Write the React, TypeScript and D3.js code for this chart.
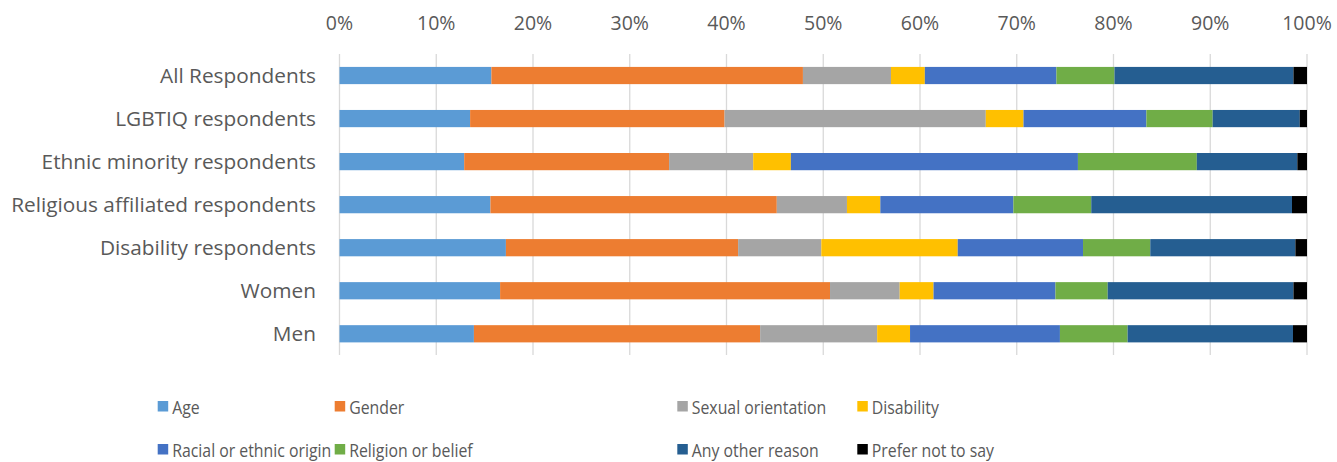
import React, { useRef, useEffect } from "react";
import * as d3 from "d3";

const categories = [
  "All Respondents",
  "LGBTIQ respondents",
  "Ethnic minority respondents",
  "Religious affiliated respondents",
  "Disability respondents",
  "Women",
  "Men",
];

const seriesNames = [
  "Age",
  "Gender",
  "Sexual orientation",
  "Disability",
  "Racial or ethnic origin",
  "Religion or belief",
  "Any other reason",
  "Prefer not to say",
];

const seriesColors = ["#5B9BD5", "#ED7D31", "#A5A5A5", "#FFC000", "#4472C4", "#70AD47", "#255E91", "#000000"];

// percentages per category, in seriesNames order
const age = [15.7, 13.5, 12.9, 15.6, 17.2, 16.6, 13.9];
const gender = [32.2, 26.3, 21.2, 29.6, 24.0, 34.1, 29.6];
const sexualOrientation = [9.1, 27.0, 8.7, 7.25, 8.6, 7.2, 12.1];
const disability = [3.5, 3.9, 3.9, 3.45, 14.1, 3.5, 3.4];
const racial = [13.6, 12.7, 29.7, 13.75, 12.95, 12.6, 15.5];
const religion = [6.0, 6.85, 12.3, 8.05, 6.95, 5.4, 7.0];
const otherReason = [18.5, 9.0, 10.4, 20.75, 15.0, 19.2, 17.1];
const preferNot = [1.4, 0.75, 1.0, 1.55, 1.2, 1.4, 1.45];

const tickValues = [0, 10, 20, 30, 40, 50, 60, 70, 80, 90, 100];

const App = () => {
  const svgRef = useRef<SVGSVGElement>(null);

  useEffect(() => {
    const svg = d3.select(svgRef.current);
    svg.selectAll("*").remove();

    const width = 1337, height = 462;
    const font = "'Open Sans', sans-serif";
    const textColor = "#595959";

    const allSeries = [age, gender, sexualOrientation, disability, racial, religion, otherReason, preferNot];
    const rows = categories.map((c, i) => {
      const row: any = { category: c };
      seriesNames.forEach((s, j) => (row[s] = allSeries[j][i]));
      return row;
    });
    const stacked = d3.stack().keys(seriesNames).offset(d3.stackOffsetExpand)(rows);

    const x = d3.scaleLinear().domain([0, 1]).range([339.5, 1307]);
    const y = d3.scaleBand().domain(categories).range([54, 355.3]).paddingInner(0.6).paddingOuter(0.3);

    svg.attr("width", width).attr("height", height);

    // gridlines
    svg.append("g")
      .selectAll("line")
      .data(tickValues)
      .enter()
      .append("line")
      .attr("x1", d => x(d / 100))
      .attr("x2", d => x(d / 100))
      .attr("y1", 54)
      .attr("y2", 355)
      .attr("stroke", "#D9D9D9")
      .attr("stroke-width", 1.3);

    // tick labels
    svg.append("g")
      .selectAll("text")
      .data(tickValues)
      .enter()
      .append("text")
      .attr("x", d => x(d / 100))
      .attr("y", 30)
      .attr("text-anchor", "middle")
      .attr("font-family", font)
      .attr("font-size", 19.5)
      .attr("fill", textColor)
      .text(d => d + "%");

    // bars
    svg.append("g")
      .selectAll("g")
      .data(stacked)
      .enter()
      .append("g")
      .attr("fill", (d, i) => seriesColors[i])
      .selectAll("rect")
      .data(d => d)
      .enter()
      .append("rect")
      .attr("x", d => x(d[0]))
      .attr("width", d => x(d[1]) - x(d[0]))
      .attr("y", d => y((d.data as any).category)!)
      .attr("height", y.bandwidth());

    // category labels
    svg.append("g")
      .selectAll("text")
      .data(categories)
      .enter()
      .append("text")
      .attr("x", 316)
      .attr("y", d => y(d)! + y.bandwidth() / 2)
      .attr("dy", "0.36em")
      .attr("text-anchor", "end")
      .attr("font-family", font)
      .attr("font-size", 20.8)
      .attr("fill", textColor)
      .text(d => d);

    // legend (text is a bit condensed in the original)
    const colX = [157.7, 334.7, 677.3, 857.3];
    const rowY = [401, 444];
    const legend = svg.append("g")
      .selectAll("g")
      .data(seriesNames)
      .enter()
      .append("g")
      .attr("transform", (d, i) => `translate(${colX[i % 4]},${rowY[Math.floor(i / 4)]})`);
    legend.append("rect")
      .attr("width", 10.5)
      .attr("height", 10.5)
      .attr("fill", (d, i) => seriesColors[i]);
    legend.append("text")
      .attr("transform", "translate(14.5,12.5) scale(0.88,1)")
      .attr("font-family", font)
      .attr("font-size", 18)
      .attr("fill", textColor)
      .text(d => d);
  }, []);

  return <svg ref={svgRef} style={{ position: "absolute", left: 0, top: 0 }}></svg>;
};

export default App;
